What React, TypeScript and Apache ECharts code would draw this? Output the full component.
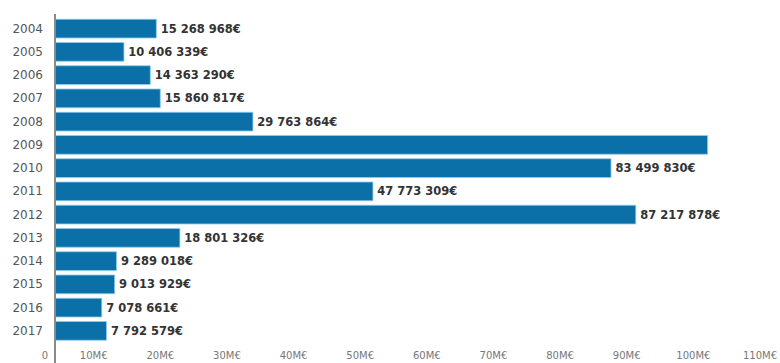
import React, { useEffect, useRef } from "react";
import * as echarts from "echarts";

const years = ["2004", "2005", "2006", "2007", "2008", "2009", "2010", "2011", "2012", "2013", "2014", "2015", "2016", "2017"];
const amounts = [15268968, 10406339, 14363290, 15860817, 29763864, 98000000, 83499830, 47773309, 87217878, 18801326, 9289018, 9013929, 7078661, 7792579];
const hiddenLabelYears = ["2009"];
const axisMax = 110000000;
const axisStep = 10000000;

const fmtEuro = (v: number) => String(Math.round(v)).replace(/\B(?=(\d{3})+(?!\d))/g, " ") + "€";

export default function App() {
  const ref = useRef<HTMLDivElement>(null);
  useEffect(() => {
    if (!ref.current) return;
    const chart = echarts.init(ref.current, null, { renderer: "svg" });
    chart.setOption({
      animation: false,
      backgroundColor: "#ffffff",
      grid: { left: 55, right: 2, top: 17, bottom: 20.5, containLabel: false },
      xAxis: {
        type: "value",
        min: 0,
        max: axisMax,
        interval: axisStep,
        axisLine: { show: false },
        axisTick: { show: false },
        splitLine: { show: false },
        axisLabel: {
          margin: 8,
          align: "center",
          color: "#777",
          fontFamily: "DejaVu Sans",
          fontSize: 10,
          formatter: (v: number) => (v === 0 ? "{z|0}" : "{m|" + v / 1000000 + "M€}"),
          rich: {
            z: { padding: [0, 20, 0, 0], color: "#777", fontFamily: "DejaVu Sans", fontSize: 10 },
            m: { padding: [0, 56, 0, 0], color: "#777", fontFamily: "DejaVu Sans", fontSize: 10 },
          },
        },
      },
      yAxis: {
        type: "category",
        data: years,
        inverse: true,
        axisLine: { show: true, lineStyle: { color: "#8a8a8a", width: 2 } },
        axisTick: { show: false },
        axisLabel: { margin: 12, color: "#555", fontFamily: "DejaVu Sans", fontSize: 12 },
      },
      graphic: [
        {
          type: "line",
          shape: { x1: 55, y1: 14, x2: 55, y2: 363 },
          style: { stroke: "#8a8a8a", lineWidth: 2 },
          z: 100,
        },
      ],
      series: [
        {
          type: "bar",
          barCategoryGap: "16%",
          data: amounts.map((v, i) =>
            hiddenLabelYears.includes(years[i]) ? { value: v, label: { show: false } } : v
          ),
          itemStyle: { color: "#0b6fa8", borderColor: "#8fcdee", borderWidth: 0.8 },
          label: {
            show: true,
            position: "right",
            distance: 4,
            color: "#333",
            fontFamily: "DejaVu Sans",
            fontWeight: "bold",
            fontSize: 11.5,
            formatter: (p: any) => fmtEuro(p.value),
          },
        },
      ],
    });
    return () => chart.dispose();
  }, []);
  return (
    <div style={{ position: "fixed", left: 0, top: 0, width: 780, height: 363, overflow: "hidden", background: "#fff" }}>
      <div ref={ref} style={{ width: 790, height: 363 }} />
    </div>
  );
}
